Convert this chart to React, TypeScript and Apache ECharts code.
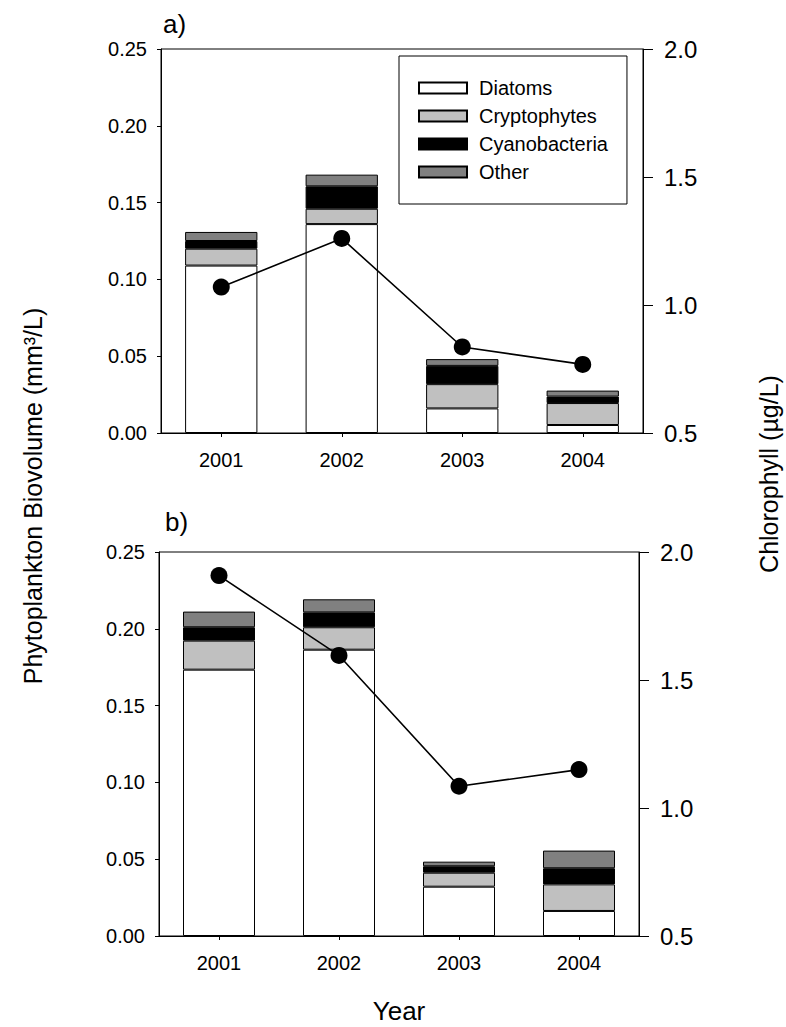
import React, { useEffect, useRef } from "react";
import * as echarts from "echarts";

const years = ["2001", "2002", "2003", "2004"];
const seriesNames = ["Diatoms", "Cryptophytes", "Cyanobacteria", "Other"];
const seriesColors = ["#ffffff", "#c0c0c0", "#000000", "#808080"];

// Panel a) biovolume (mm3/L)
const diatomsA = [0.109, 0.136, 0.016, 0.0052];
const cryptoA = [0.011, 0.010, 0.0158, 0.0143];
const cyanoA = [0.005, 0.0146, 0.0119, 0.0042];
const otherA = [0.0059, 0.0076, 0.0044, 0.0039];
const chlA = [1.07, 1.26, 0.836, 0.768];

// Panel b) biovolume (mm3/L)
const diatomsB = [0.1734, 0.1864, 0.0321, 0.0163];
const cryptoB = [0.0189, 0.0146, 0.0091, 0.0173];
const cyanoB = [0.0087, 0.0097, 0.0042, 0.0105];
const otherB = [0.0102, 0.0085, 0.003, 0.0115];
const chlB = [1.908, 1.596, 1.085, 1.15];

const leftTicks = { min: 0, max: 0.25, interval: 0.05 };
const rightTicks = { min: 0.5, max: 2.0, interval: 0.5 };

const FONT = "'Liberation Sans', Arial, Helvetica, sans-serif";

export default function App() {
  const ref = useRef<HTMLDivElement>(null);

  useEffect(() => {
    if (!ref.current) return;
    const chart = echarts.init(ref.current, undefined, { renderer: "svg" });

    const grids = [
      { left: 161, right: 143, top: 49, height: 384 },
      { left: 159, right: 147, top: 552, height: 384 },
    ];

    const xAxes = grids.map((_, i) => ({
      type: "category",
      gridIndex: i,
      data: years,
      boundaryGap: true,
      axisLine: { show: true, lineStyle: { color: "#000", width: 1 } },
      axisTick: { show: true, alignWithLabel: true, length: 4, lineStyle: { color: "#000" } },
      axisLabel: { color: "#000", fontSize: 20, fontFamily: FONT, margin: 17 },
      splitLine: { show: false },
    }));

    const yAxes: any[] = [];
    grids.forEach((_, i) => {
      yAxes.push({
        type: "value",
        gridIndex: i,
        position: "left",
        min: leftTicks.min,
        max: leftTicks.max,
        interval: leftTicks.interval,
        axisLine: { show: true, lineStyle: { color: "#000", width: 1 } },
        axisTick: { show: true, length: 4, lineStyle: { color: "#000" } },
        axisLabel: {
          color: "#000",
          fontSize: 20,
          fontFamily: FONT,
          margin: 14,
          formatter: (v: number) => v.toFixed(2),
        },
        splitLine: { show: false },
      });
      yAxes.push({
        type: "value",
        gridIndex: i,
        position: "right",
        min: rightTicks.min,
        max: rightTicks.max,
        interval: rightTicks.interval,
        axisLine: { show: true, lineStyle: { color: "#000", width: 1 } },
        axisTick: { show: true, length: 10, lineStyle: { color: "#000" } },
        axisLabel: {
          color: "#000",
          fontSize: 24,
          fontFamily: FONT,
          margin: 21,
          formatter: (v: number) => v.toFixed(1),
        },
        splitLine: { show: false },
      });
    });

    const barSet = (panel: number, data: number[][]) =>
      data.map((vals, k) => ({
        name: seriesNames[k],
        type: "bar",
        stack: "panel" + panel,
        xAxisIndex: panel,
        yAxisIndex: panel * 2,
        barWidth: "60%",
        data: vals,
        itemStyle: { color: seriesColors[k], borderColor: "#000", borderWidth: 1 },
      }));

    const lineSet = (panel: number, data: number[]) => ({
      name: "Chlorophyll" + panel,
      type: "line",
      xAxisIndex: panel,
      yAxisIndex: panel * 2 + 1,
      data,
      symbol: "circle",
      symbolSize: 17,
      z: 5,
      itemStyle: { color: "#000" },
      lineStyle: { color: "#000", width: 1.6 },
    });

    chart.setOption({
      animation: false,
      backgroundColor: "#fff",
      textStyle: { fontFamily: FONT },
      grid: grids.map((g) => ({ ...g, show: true, borderColor: "#000", borderWidth: 1, backgroundColor: "transparent" })),
      xAxis: xAxes,
      yAxis: yAxes,
      legend: {
        data: seriesNames,
        orient: "vertical",
        left: 399,
        top: 56,
        padding: [22, 19, 22, 19],
        itemGap: 8,
        itemWidth: 48,
        itemHeight: 11,
        icon: "rect",
        borderColor: "#000",
        borderWidth: 1,
        selectedMode: false,
        textStyle: { color: "#000", fontSize: 20, fontFamily: FONT, padding: [0, 0, 0, 7] },
      },
      series: [
        ...barSet(0, [diatomsA, cryptoA, cyanoA, otherA]),
        lineSet(0, chlA),
        ...barSet(1, [diatomsB, cryptoB, cyanoB, otherB]),
        lineSet(1, chlB),
      ],
      graphic: [
        {
          type: "text",
          x: 163,
          y: 24,
          style: { text: "a)", fontSize: 26, fontFamily: FONT, fill: "#000", verticalAlign: "middle" },
        },
        {
          type: "text",
          x: 165,
          y: 522,
          style: { text: "b)", fontSize: 26, fontFamily: FONT, fill: "#000", verticalAlign: "middle" },
        },
        {
          type: "text",
          x: 33,
          y: 496,
          rotation: Math.PI / 2,
          style: {
            text: "Phytoplankton Biovolume (mm³/L)",
            fontSize: 25,
            fontFamily: FONT,
            fill: "#000",
            align: "center",
            verticalAlign: "middle",
          },
        },
        {
          type: "text",
          x: 769,
          y: 474,
          rotation: Math.PI / 2,
          style: {
            text: "Chlorophyll (µg/L)",
            fontSize: 25,
            fontFamily: FONT,
            fill: "#000",
            align: "center",
            verticalAlign: "middle",
          },
        },
        {
          type: "text",
          x: 399,
          y: 1011,
          style: {
            text: "Year",
            fontSize: 26,
            fontFamily: FONT,
            fill: "#000",
            align: "center",
            verticalAlign: "middle",
          },
        },
      ],
    });

    return () => chart.dispose();
  }, []);

  return (
    <div
      ref={ref}
      style={{ position: "absolute", left: 0, top: 0, width: 786, height: 1027, background: "#fff" }}
    />
  );
}
